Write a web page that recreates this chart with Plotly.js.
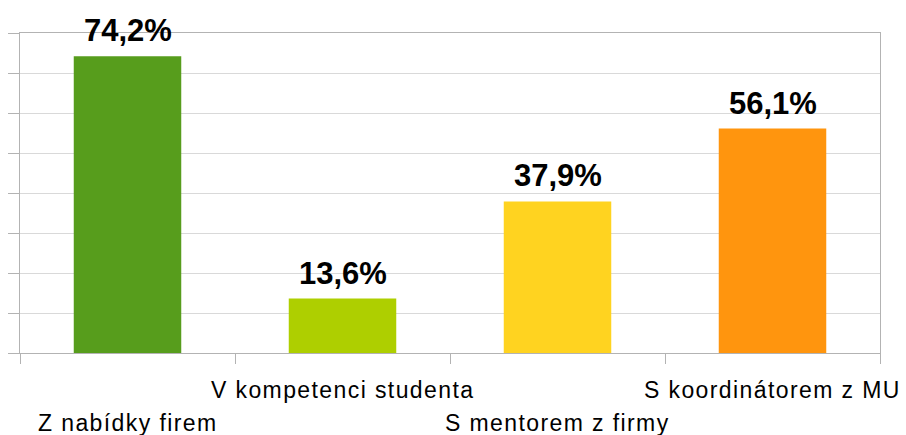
<!DOCTYPE html>
<html>
<head>
<meta charset="utf-8">
<script src="https://cdn.plot.ly/plotly-3.0.1.min.js"></script>
<style>
html,body{margin:0;padding:0;background:#fff;}
#chart{width:906px;height:435px;}
</style>
</head>
<body>
<div id="chart"></div>
<script>
const categories = ["Z nabídky firem", "V kompetenci studenta", "S mentorem z firmy", "S koordinátorem z MU"];
const values = [74.2, 13.6, 37.9, 56.1];
const valueLabels = ["74,2%", "13,6%", "37,9%", "56,1%"];
const barColors = ["#579d1c", "#aecf00", "#ffd320", "#ff950e"];
const labelRow = [1, 0, 1, 0];

const FONT = "Liberation Sans, Arial, sans-serif";

const annotations = [];
categories.forEach((c, i) => {
  annotations.push({
    x: c, y: values[i], xref: "x", yref: "y",
    text: "<b>" + valueLabels[i] + "</b>",
    showarrow: false, yanchor: "bottom", yshift: 6,
    font: {family: FONT, size: 31, color: "#000"}
  });
  annotations.push({
    x: c, y: labelRow[i] ? -0.219 : -0.117, xref: "x", yref: "paper",
    text: "<span style='letter-spacing:1.4px'>" + c + "</span>", showarrow: false, yanchor: "middle", xanchor: "center",
    font: {family: FONT, size: 23, color: "#000"}
  });
});

const data = [{
  type: "bar",
  x: categories,
  y: values,
  marker: {color: barColors, line: {width: 0}},
  hoverinfo: "none",
  cliponaxis: false
}];

const layout = {
  width: 906, height: 435,
  margin: {l: 20, r: 26, t: 33, b: 82, autoexpand: false},
  paper_bgcolor: "#fff", plot_bgcolor: "#fff",
  showlegend: false,
  bargap: 0.5,
  font: {family: FONT},
  xaxis: {
    type: "category",
    range: [-0.5, categories.length - 0.5],
    autorange: false,
    tickson: "boundaries",
    ticks: "outside", ticklen: 10, tickwidth: 1, tickcolor: "#b3b3b3",
    showticklabels: false,
    showgrid: false,
    showline: true, linecolor: "#b3b3b3", linewidth: 1, mirror: true,
    fixedrange: true, automargin: false
  },
  yaxis: {
    range: [0, 80], autorange: false, dtick: 10, tick0: 0,
    ticks: "outside", ticklen: 11, tickwidth: 1, tickcolor: "#b3b3b3",
    showticklabels: false,
    showgrid: true, gridcolor: "#d9d9d9", gridwidth: 1,
    zeroline: false,
    showline: true, linecolor: "#b3b3b3", linewidth: 1, mirror: true,
    fixedrange: true, automargin: false
  },
  annotations: annotations
};

Plotly.newPlot("chart", data, layout, {displayModeBar: false, staticPlot: true});
</script>
</body>
</html>
